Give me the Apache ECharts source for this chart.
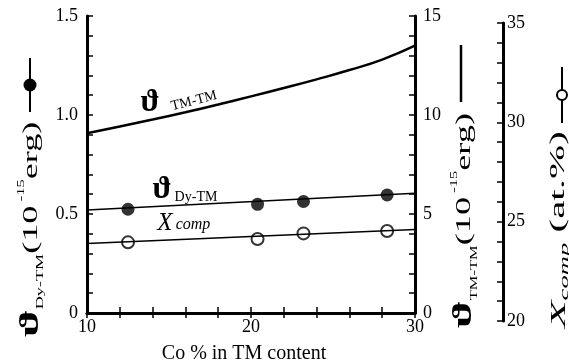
<!DOCTYPE html>
<html>
<head>
<meta charset="utf-8">
<script src="https://cdn.jsdelivr.net/npm/echarts@6/dist/echarts.min.js"></script>
<style>html,body{margin:0;padding:0;background:#fff}#c{width:569px;height:364px}</style>
</head>
<body>
<div id="c"></div>
<script>
// ---- data ----
var tmX = [10, 12, 14, 16, 18, 20, 22, 24, 26, 28, 30];
var tmY = [9.08, 9.42, 9.77, 10.14, 10.53, 10.94, 11.36, 11.80, 12.27, 12.80, 13.50];
var dyX = [12.5, 20.4, 23.2, 28.3];
var dyY = [0.524, 0.549, 0.563, 0.596];
var dyFitX = [10, 30];
var dyFitY = [0.52, 0.605];
var xcX = [12.5, 20.4, 23.2, 28.3];
var xcY = [23.96, 24.13, 24.41, 24.53];
var xcFitX = [10, 30];
var xcFitY = [23.9, 24.6];
var xTickLabels = [10, 20, 30];
var leftTickLabels = [0, 0.5, 1.0, 1.5];
var rightTickLabels = [0, 5, 10, 15];
var thirdTickLabels = [20, 25, 30, 35];

function pairs(xs, ys) { return xs.map(function (x, i) { return [x, ys[i]]; }); }
function inList(list, v) { return list.some(function (t) { return Math.abs(t - v) < 1e-6; }); }

var FF = '"Liberation Serif", "DejaVu Serif", serif';
var chart = echarts.init(document.getElementById('c'), null, { renderer: 'canvas' });

var lbl = { fontFamily: FF, fontSize: 18, color: '#000' };

var option = {
  animation: false,
  backgroundColor: '#fff',
  grid: [
    { left: 87, right: 154, top: 16, bottom: 51 },
    { left: 87, right: 154, top: 23, bottom: 43 }
  ],
  xAxis: [
    { gridIndex: 0, type: 'value', position: 'bottom', min: 10, max: 30, interval: 2,
      axisLine: { lineStyle: { color: '#000', width: 3 } },
      axisTick: { inside: true, length: 6, lineStyle: { color: '#000', width: 1.5 } },
      splitLine: { show: false },
      axisLabel: Object.assign({ margin: 5, formatter: function (v) { return inList(xTickLabels, v) ? String(v) : ''; } }, lbl) },
    { gridIndex: 0, type: 'value', position: 'top', min: 10, max: 30, interval: 2,
      axisLine: { lineStyle: { color: '#000', width: 2.5 } },
      axisTick: { inside: true, length: 5, lineStyle: { color: '#000', width: 1.5 } },
      splitLine: { show: false }, axisLabel: { show: false } },
    { gridIndex: 1, type: 'value', min: 10, max: 30, show: false }
  ],
  yAxis: [
    { gridIndex: 0, type: 'value', position: 'left', min: 0, max: 1.5, interval: 0.1,
      axisLine: { show: true, lineStyle: { color: '#000', width: 3 } },
      axisTick: { show: true, inside: true, length: 6, lineStyle: { color: '#000', width: 1.5 } },
      splitLine: { show: false },
      axisLabel: Object.assign({ margin: 9, formatter: function (v) {
        if (!inList(leftTickLabels, v)) return '';
        return Math.abs(v) < 1e-9 ? '0' : v.toFixed(1);
      } }, lbl) },
    { gridIndex: 0, type: 'value', position: 'right', min: 0, max: 15, interval: 1,
      axisLine: { show: true, lineStyle: { color: '#000', width: 3 } },
      axisTick: { show: true, inside: true, length: 6, lineStyle: { color: '#000', width: 1.5 } },
      splitLine: { show: false },
      axisLabel: Object.assign({ margin: 8, formatter: function (v) { return inList(rightTickLabels, v) ? String(v) : ''; } }, lbl) },
    { gridIndex: 1, type: 'value', position: 'right', offset: 88, min: 20, max: 35, interval: 1,
      axisLine: { show: true, lineStyle: { color: '#000', width: 3 } },
      axisTick: { show: true, inside: true, length: 6, lineStyle: { color: '#000', width: 1.5 } },
      splitLine: { show: false },
      axisLabel: Object.assign({ margin: 4, formatter: function (v) { return inList(thirdTickLabels, v) ? String(v) : ''; } }, lbl) }
  ],
  series: [
    { type: 'line', xAxisIndex: 0, yAxisIndex: 1, data: pairs(tmX, tmY), smooth: true, showSymbol: false,
      lineStyle: { color: '#000', width: 2.5 } },
    { type: 'line', xAxisIndex: 0, yAxisIndex: 0, data: pairs(dyFitX, dyFitY), showSymbol: false,
      lineStyle: { color: '#000', width: 1.5 } },
    { type: 'scatter', xAxisIndex: 0, yAxisIndex: 0, data: pairs(dyX, dyY), symbol: 'circle', symbolSize: 13,
      itemStyle: { color: '#000' } },
    { type: 'line', xAxisIndex: 2, yAxisIndex: 2, data: pairs(xcFitX, xcFitY), showSymbol: false,
      lineStyle: { color: '#000', width: 1.5 } },
    { type: 'scatter', xAxisIndex: 2, yAxisIndex: 2, data: pairs(xcX, xcY), symbol: 'circle', symbolSize: 12,
      itemStyle: { color: '#fff', borderColor: '#000', borderWidth: 2 } }
  ],
  graphic: [
    // x axis title
    { type: 'text', x: 244, y: 354, style: { text: 'Co % in TM content', font: '20px ' + FF, fill: '#000', align: 'center', verticalAlign: 'middle' } },
    // left title
    { type: 'text', x: 31, y: 337, rotation: Math.PI / 2, scaleX: 1.65, style: {
        text: '{th|ϑ}{sub|Dy-TM}{n|(10}{sup| -15}{n|erg)}', align: 'left', verticalAlign: 'middle', fill: '#000',
        rich: {
          th: { fontFamily: FF, fontSize: 28, lineHeight: 30, fontWeight: 'bold' },
          sub: { fontFamily: FF, fontSize: 11, lineHeight: 14, verticalAlign: 'bottom' },
          n: { fontFamily: FF, fontSize: 22, lineHeight: 30 },
          sup: { fontFamily: FF, fontSize: 10, lineHeight: 22, verticalAlign: 'top' }
        } } },
    // right title
    { type: 'text', x: 464, y: 328, rotation: Math.PI / 2, scaleX: 1.65, style: {
        text: '{th|ϑ}{sub|TM-TM}{n|(10}{sup| -15}{n|erg)}', align: 'left', verticalAlign: 'middle', fill: '#000',
        rich: {
          th: { fontFamily: FF, fontSize: 28, lineHeight: 30, fontWeight: 'bold' },
          sub: { fontFamily: FF, fontSize: 10, lineHeight: 14, verticalAlign: 'bottom' },
          n: { fontFamily: FF, fontSize: 22, lineHeight: 30 },
          sup: { fontFamily: FF, fontSize: 10, lineHeight: 22, verticalAlign: 'top' }
        } } },
    // third title
    { type: 'text', x: 559, y: 328, rotation: Math.PI / 2, scaleX: 2.05, style: {
        text: '{x|X}{c|comp}{n| (at.%)}', align: 'left', verticalAlign: 'middle', fill: '#000',
        rich: {
          x: { fontFamily: FF, fontSize: 22, fontStyle: 'italic', lineHeight: 24 },
          c: { fontFamily: FF, fontSize: 13, fontStyle: 'italic', lineHeight: 17, verticalAlign: 'bottom' },
          n: { fontFamily: FF, fontSize: 20, lineHeight: 24 }
        } } },
    // legend keys
    { type: 'line', shape: { x1: 30, y1: 58, x2: 30, y2: 112 }, style: { stroke: '#000', lineWidth: 2 } },
    { type: 'circle', shape: { cx: 30, cy: 85, r: 6.5 }, style: { fill: '#000' } },
    { type: 'line', shape: { x1: 461, y1: 45, x2: 461, y2: 102 }, style: { stroke: '#000', lineWidth: 2.5 } },
    { type: 'line', shape: { x1: 562, y1: 67, x2: 562, y2: 123 }, style: { stroke: '#000', lineWidth: 2 } },
    { type: 'circle', shape: { cx: 562, cy: 95, r: 5 }, style: { fill: '#fff', stroke: '#000', lineWidth: 2 } },
    // inline labels
    { type: 'text', x: 150, y: 103, style: { text: 'ϑ', font: 'bold 32px ' + FF, fill: '#000', align: 'center', verticalAlign: 'middle' } },
    { type: 'text', x: 194, y: 101, rotation: 0.25, style: { text: 'TM-TM', font: '14px ' + FF, fill: '#000', align: 'center', verticalAlign: 'middle' } },
    { type: 'text', x: 162, y: 190, style: { text: 'ϑ', font: 'bold 32px ' + FF, fill: '#000', align: 'center', verticalAlign: 'middle' } },
    { type: 'text', x: 196, y: 197, style: { text: 'Dy-TM', font: '14px ' + FF, fill: '#000', align: 'center', verticalAlign: 'middle' } },
    { type: 'text', x: 165, y: 223, style: { text: 'X', font: 'italic 25px ' + FF, fill: '#000', align: 'center', verticalAlign: 'middle' } },
    { type: 'text', x: 193, y: 225, style: { text: 'comp', font: 'italic 16px ' + FF, fill: '#000', align: 'center', verticalAlign: 'middle' } }
  ]
};
chart.setOption(option);
</script>
</body>
</html>
